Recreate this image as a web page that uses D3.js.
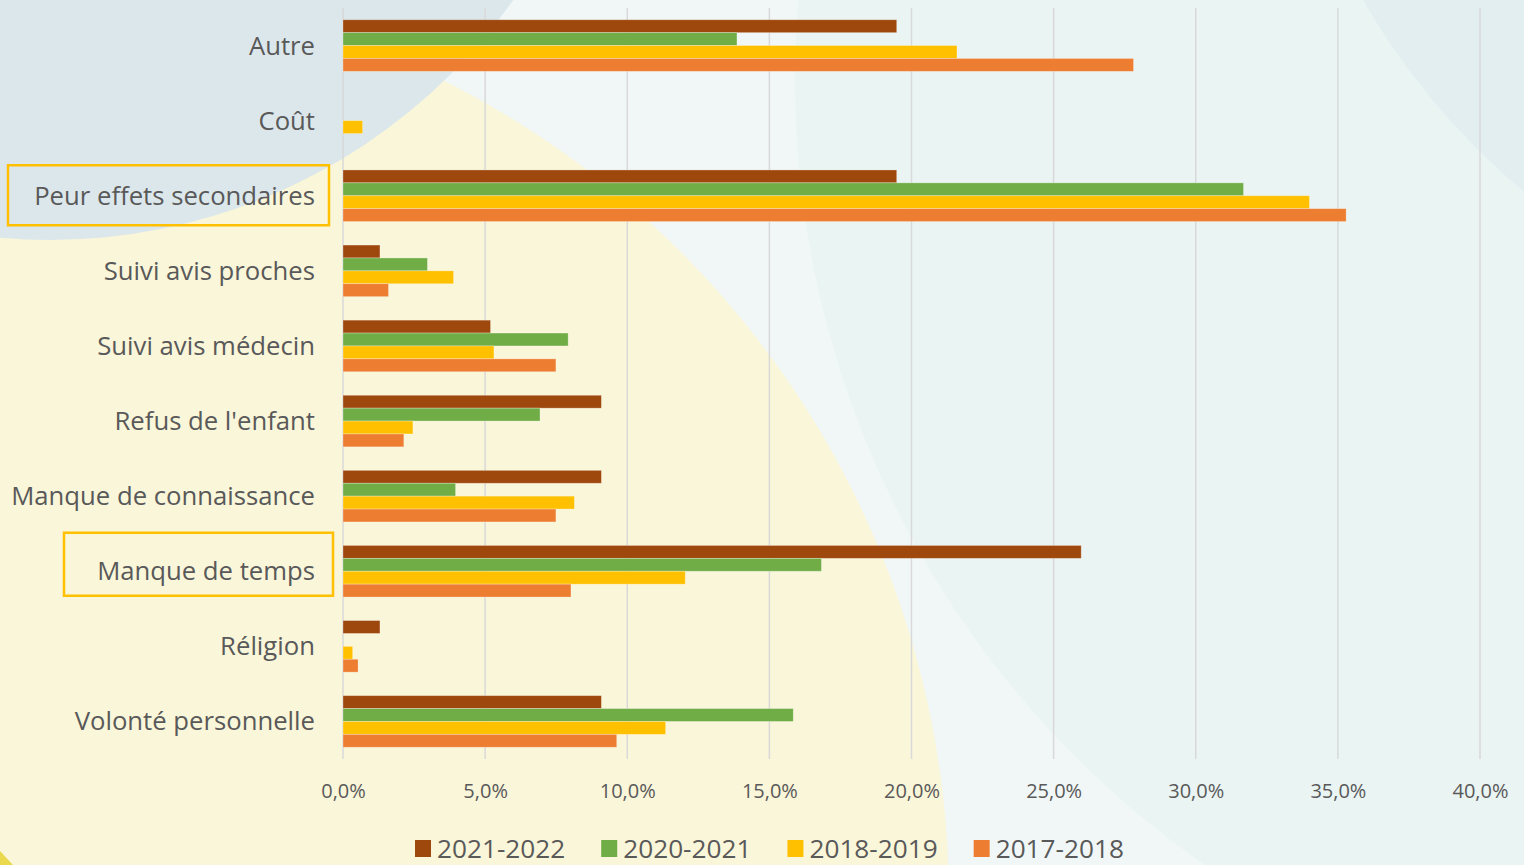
<!DOCTYPE html>
<html>
<head>
<meta charset="utf-8">
<script src="https://cdn.jsdelivr.net/npm/d3@7"></script>
<style>
  html, body { margin: 0; padding: 0; background: #F1F7F7; }
  svg { display: block; }
</style>
</head>
<body>
<svg id="chart" width="1524" height="865"></svg>
<script>
// ---- Data ----
const categories = ["Autre", "Coût", "Peur effets secondaires", "Suivi avis proches", "Suivi avis médecin",
  "Refus de l'enfant", "Manque de connaissance", "Manque de temps", "Réligion", "Volonté personnelle"];
const seriesNames = ["2021-2022", "2020-2021", "2018-2019", "2017-2018"];
const s2021_2022 = [19.48, 0, 19.48, 1.30, 5.19, 9.09, 9.09, 25.97, 1.30, 9.09];
const s2020_2021 = [13.86, 0, 31.68, 2.97, 7.92, 6.93, 3.96, 16.83, 0, 15.84];
const s2018_2019 = [21.6, 0.69, 34.0, 3.89, 5.31, 2.46, 8.14, 12.04, 0.34, 11.35];
const s2017_2018 = [27.81, 0, 35.29, 1.60, 7.49, 2.14, 7.49, 8.02, 0.53, 9.63];
const seriesValues = [s2021_2022, s2020_2021, s2018_2019, s2017_2018];
const seriesColors = ["#9E480E", "#70AD47", "#FFC000", "#ED7D31"];
const xTicks = [0, 5, 10, 15, 20, 25, 30, 35, 40];
const highlighted = ["Peur effets secondaires", "Manque de temps"];

// ---- Layout ----
const svg = d3.select("#chart");
const W = 1524, H = 865;
const plot = { left: 343, right: 1480, top: 8, bottom: 759 };
const labelX = 315;
const labelFont = "'Open Sans', 'DejaVu Sans', sans-serif";
const textColor = "#595959";

// ---- Background decoration ----
const bg = svg.append("g");
bg.append("rect").attr("width", W).attr("height", H).attr("fill", "#F1F7F7");
bg.append("circle").attr("cx", 1752).attr("cy", 80).attr("r", 957).attr("fill", "#EAF4F3");
bg.append("circle").attr("cx", 1975).attr("cy", -350).attr("r", 705).attr("fill", "#E2EEF0");
bg.append("circle").attr("cx", 32).attr("cy", 900).attr("r", 917).attr("fill", "#FAF6D9");
bg.append("circle").attr("cx", 50).attr("cy", -327).attr("r", 567).attr("fill", "#DCE7EC");
bg.append("path").attr("d", "M0,851 L13,865 L0,865 Z").attr("fill", "#EAD84E");

// ---- Scales ----
const x = d3.scaleLinear().domain([0, 40]).range([plot.left, plot.right]);
const y = d3.scaleBand().domain(categories).range([plot.top, plot.bottom])
  .paddingInner(0.313).paddingOuter(0.1565);
const ySub = d3.scaleBand().domain(seriesNames).range([0, y.bandwidth()]);

// ---- Gridlines ----
svg.append("g").selectAll("line").data(xTicks).join("line")
  .attr("x1", d => x(d)).attr("x2", d => x(d))
  .attr("y1", plot.top).attr("y2", plot.bottom)
  .attr("stroke", "#D9D9D9").attr("stroke-width", 1.5);

// ---- Bars ----
const barsG = svg.append("g");
seriesNames.forEach((name, si) => {
  barsG.append("g").selectAll("rect")
    .data(categories.map((c, i) => ({ c, v: seriesValues[si][i] })).filter(d => d.v > 0))
    .join("rect")
    .attr("x", x(0))
    .attr("y", d => y(d.c) + ySub(name))
    .attr("width", d => x(d.v) - x(0))
    .attr("height", ySub.bandwidth())
    .attr("fill", seriesColors[si])
    .attr("stroke", "rgba(255,255,255,0.35)")
    .attr("stroke-width", 0.8);
});

// ---- Category axis labels ----
const yAxis = d3.axisLeft(y).tickSize(0).tickPadding(0);
const yG = svg.append("g").attr("transform", `translate(${labelX},0)`).call(yAxis);
yG.select(".domain").remove();
yG.selectAll("text")
  .attr("fill", textColor)
  .style("font-family", labelFont)
  .style("font-size", "25.7px")
  .attr("dy", "0.35em");

// highlight boxes (extent relative to the label anchor)
const boxExtent = { "Peur effets secondaires": { l: 307, r: 14, dy: -0.5, h: 60 },
                    "Manque de temps": { l: 251, r: 18, dy: -7, h: 63 } };
svg.append("g").selectAll("rect").data(highlighted).join("rect")
  .attr("x", d => labelX - boxExtent[d].l)
  .attr("y", d => y(d) + y.bandwidth() / 2 + boxExtent[d].dy - boxExtent[d].h / 2)
  .attr("width", d => boxExtent[d].l + boxExtent[d].r)
  .attr("height", d => boxExtent[d].h)
  .attr("fill", "none")
  .attr("stroke", "#FFC000")
  .attr("stroke-width", 2.5);

// ---- X axis ----
const fmt = d => d.toFixed(1).replace(".", ",") + "%";
const xAxis = d3.axisBottom(x).tickValues(xTicks).tickFormat(fmt).tickSize(0).tickPadding(0);
const xG = svg.append("g").attr("transform", `translate(0,${plot.bottom})`).call(xAxis);
xG.select(".domain").remove();
xG.selectAll("text")
  .attr("y", 32)
  .attr("dy", "0.35em")
  .attr("fill", textColor)
  .style("font-family", labelFont)
  .style("font-size", "20px");

// ---- Legend ----
const legend = svg.append("g");
let lx = 415;
seriesNames.forEach((name, i) => {
  const g = legend.append("g").attr("transform", `translate(${lx},0)`);
  g.append("rect").attr("x", 0).attr("y", 840).attr("width", 16).attr("height", 17)
    .attr("fill", seriesColors[i]);
  const t = g.append("text").attr("x", 22).attr("y", 849).attr("dy", "0.35em")
    .attr("fill", textColor)
    .style("font-family", labelFont).style("font-size", "26.2px")
    .text(name);
  lx += 22 + t.node().getComputedTextLength() + 36;
});
</script>
</body>
</html>
